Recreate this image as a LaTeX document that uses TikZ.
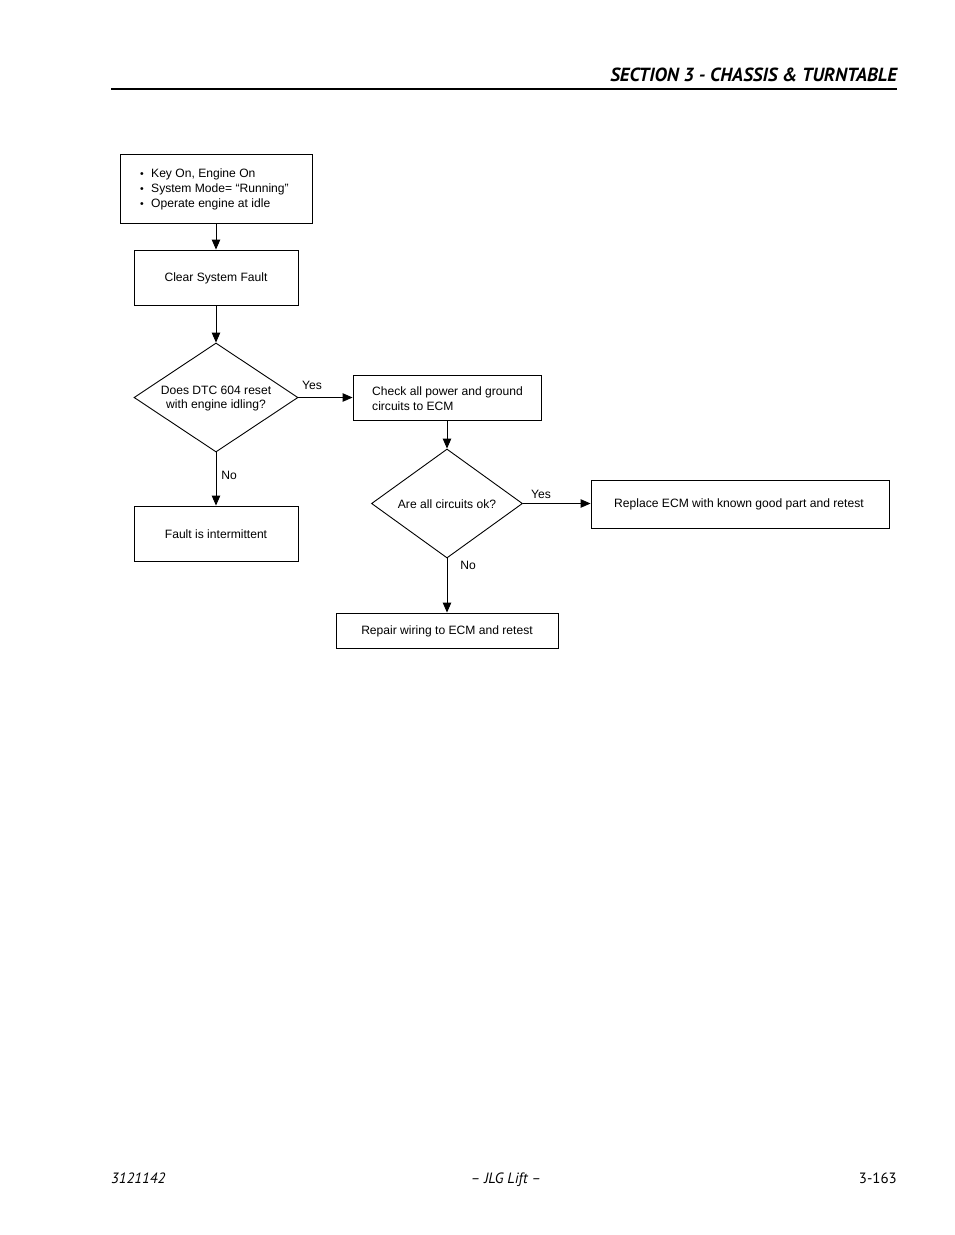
\documentclass[tikz,border=0pt]{standalone}
\usepackage{fontspec}
\setmainfont{Liberation Sans}
\newfontfamily\hdrfont{PT Sans}
\usetikzlibrary{shapes.geometric,arrows.meta}
\newcommand{\blt}{\makebox[11pt][l]{\raisebox{0.3pt}{\fontsize{10.5}{10}\selectfont •}}}
\begin{document}
\begin{tikzpicture}[x=1pt,y=-1pt,
  box/.style={draw,line width=0.9pt,inner sep=0pt},
  dia/.style={draw,diamond,line width=0.9pt,inner sep=0pt},
  txt/.style={font=\fontsize{12.1}{14.7}\selectfont,inner sep=0pt},
  lbl/.style={font=\fontsize{12.1}{14}\selectfont,inner sep=0pt},
  conn/.style={line width=0.9pt,-{Triangle[length=10pt,width=8.5pt]}},
  plain/.style={line width=0.9pt}]
\useasboundingbox (0,0) rectangle (954,1235);
\fill[white] (0,0) rectangle (954,1235);
% header / footer
\node[anchor=base east,inner sep=0pt,font=\hdrfont\fontsize{19}{21}\selectfont\bfseries\itshape] (hdr) at (897,81) {SECTION 3 - CHASSIS \& TURNTABLE};
\coordinate (r1) at (111,89);
\coordinate (r2) at (897,89);
\draw[line width=1.1pt] (r1) -- (r2);
\node[anchor=base west,inner sep=0pt,font=\hdrfont\fontsize{14.9}{17}\selectfont\itshape] (f1) at (111,1183) {3121142};
\node[anchor=base,inner sep=0pt,font=\hdrfont\fontsize{14.9}{17}\selectfont\itshape] (f2) at (506,1183) {– JLG Lift –};
\node[anchor=base east,inner sep=0pt,font=\hdrfont\fontsize{14.9}{17}\selectfont] (f3) at (897,1183) {3-163};
% flowchart
\node[box,minimum width=192,minimum height=69] (b1) at (216,188.5) {};
\node[txt,anchor=west,align=left] (t1) at (140,189.5) {\blt Key On, Engine On\\
\blt System Mode= “Running”\\
\blt Operate engine at idle};
\node[box,minimum width=164,minimum height=55] (b2) at (216,277.5) {};
\node[txt] (t2) at (216,278.5) {Clear System Fault};
\node[dia,minimum width=164,minimum height=109,aspect=1.5] (d1) at (216,397.5) {};
\node[txt,align=center] (t3) at (216,398.5) {Does DTC 604 reset\\with engine idling?};
\node[box,minimum width=188,minimum height=45] (b3) at (447,397.5) {};
\node[txt,anchor=west,align=left] (t4) at (372,398.5) {Check all power and ground\\circuits to ECM};
\node[box,minimum width=164,minimum height=55] (b4) at (216,533.5) {};
\node[txt] (t5) at (216,534.5) {Fault is intermittent};
\node[dia,minimum width=151,minimum height=109,aspect=1.385] (d2) at (447,503.5) {};
\node[txt] (t6) at (447,504.5) {Are all circuits ok?};
\node[box,minimum width=298,minimum height=48] (b5) at (740,504) {};
\node[txt] (t7) at (739,504.5) {Replace ECM with known good part and retest};
\node[box,minimum width=222,minimum height=35] (b6) at (447,630.5) {};
\node[txt] (t8) at (447,631.5) {Repair wiring to ECM and retest};
% connectors
\draw[conn] (b1.south) -- (b2.north);
\draw[conn] (b2.south) -- (d1.north);
\draw[conn] (d1.east) -- (b3.west);
\draw[conn] (d1.south) -- (b4.north);
\draw[conn] (b3.south) -- (d2.north);
\draw[conn] (d2.east) -- (d2.east -| b5.west);
\draw[conn] (d2.south) -- (b6.north);
% labels
\node[lbl] (y1) at (312,385) {Yes};
\node[lbl] (n1) at (229,475) {No};
\node[lbl] (y2) at (541,494) {Yes};
\node[lbl] (n2) at (468,565) {No};
\end{tikzpicture}
\end{document}
